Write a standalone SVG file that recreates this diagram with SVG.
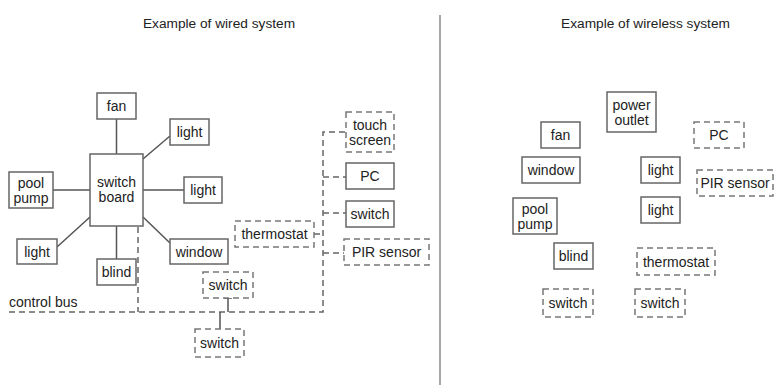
<svg xmlns="http://www.w3.org/2000/svg" width="774" height="385" viewBox="0 0 774 385">
<style>
text{font-family:"Liberation Sans",Arial,sans-serif;fill:#222;font-size:14px;text-anchor:middle}
.t{font-size:13.7px}
.b{fill:#fff;stroke:#666;stroke-width:1.5}
.d{fill:#fff;stroke:#777;stroke-width:1.5;stroke-dasharray:6,4}
.w{stroke:#555;stroke-width:1.5;fill:none}
.dw{stroke:#666;stroke-width:1.5;fill:none;stroke-dasharray:6,4}
</style>
<rect width="774" height="385" fill="#fff"/>
<text class="t" x="219" y="28">Example of wired system</text>
<text class="t" x="645.5" y="28">Example of wireless system</text>
<line x1="440" y1="15" x2="440" y2="385" stroke="#888" stroke-width="1.5"/>
<g id="connectors">
<line class="w" x1="116.5" y1="119" x2="116.5" y2="154"/>
<line class="w" x1="170" y1="136" x2="143" y2="159"/>
<line class="w" x1="53" y1="190" x2="90" y2="190"/>
<line class="w" x1="143" y1="190" x2="184" y2="190"/>
<line class="w" x1="57" y1="247" x2="90" y2="217"/>
<line class="w" x1="143" y1="217" x2="170" y2="243"/>
<line class="w" x1="116.5" y1="226" x2="116.5" y2="259"/>
<path class="dw" d="M138 227V312"/>
<path class="dw" d="M9 312H323V132H346"/>
<path class="dw" d="M323 177H346M323 213H346M323 253H344M314 234H323"/>
<path class="w" d="M228 298V312M224 298H232"/>
<line class="w" x1="220" y1="312" x2="220" y2="329"/>
<text x="9" y="307" style="text-anchor:start">control bus</text>
</g>
<g id="fan-w"><rect class="b" x="97" y="93" width="39" height="26"/><text x="116.5" y="111">fan</text></g>
<g id="light-w1"><rect class="b" x="170" y="119" width="39" height="26"/><text x="189.5" y="137">light</text></g>
<g id="switchboard"><rect class="b" x="90" y="154" width="53" height="72"/><text x="116.5" y="187">switch</text><text x="116.5" y="202">board</text></g>
<g id="poolpump-w"><rect class="b" x="9" y="172" width="44" height="36"/><text x="31" y="188">pool</text><text x="31" y="203">pump</text></g>
<g id="light-w2"><rect class="b" x="184" y="177" width="38" height="26"/><text x="203" y="195">light</text></g>
<g id="light-w3"><rect class="b" x="17" y="239" width="40" height="25"/><text x="37" y="256.5">light</text></g>
<g id="blind-w"><rect class="b" x="97" y="259" width="39" height="26"/><text x="116.5" y="277">blind</text></g>
<g id="window-w"><rect class="b" x="170" y="239" width="58" height="25"/><text x="199" y="256.5">window</text></g>
<g id="thermostat-w"><rect class="d" x="235" y="221" width="79" height="26"/><text x="274.5" y="239">thermostat</text></g>
<g id="touchscreen-w"><rect class="d" x="346" y="112" width="48" height="40"/><text x="370" y="130">touch</text><text x="370" y="145">screen</text></g>
<g id="pc-w"><rect class="b" x="346" y="163" width="48" height="26"/><text x="370" y="181">PC</text></g>
<g id="switch-w1"><rect class="b" x="346" y="201" width="48" height="26"/><text x="370" y="219">switch</text></g>
<g id="pir-w"><rect class="d" x="344" y="239" width="85" height="26"/><text x="386.5" y="257">PIR sensor</text></g>
<g id="switch-w2"><rect class="d" x="203" y="272" width="50" height="26"/><text x="228" y="290">switch</text></g>
<g id="switch-w3"><rect class="d" x="195" y="329" width="49" height="28"/><text x="219.5" y="348">switch</text></g>
<g id="poweroutlet"><rect class="b" x="607" y="92" width="49" height="40"/><text x="631.5" y="110">power</text><text x="631.5" y="125">outlet</text></g>
<g id="fan-r"><rect class="b" x="541" y="122" width="39" height="26"/><text x="560.5" y="140">fan</text></g>
<g id="pc-r"><rect class="d" x="694" y="122" width="50" height="26"/><text x="719" y="140">PC</text></g>
<g id="window-r"><rect class="b" x="522" y="157" width="58" height="26"/><text x="551" y="175">window</text></g>
<g id="light-r1"><rect class="b" x="641" y="157" width="39" height="26"/><text x="660.5" y="175">light</text></g>
<g id="pir-r"><rect class="d" x="697" y="170" width="76" height="26"/><text x="735" y="188">PIR sensor</text></g>
<g id="poolpump-r"><rect class="b" x="513" y="198" width="44" height="36"/><text x="535" y="214">pool</text><text x="535" y="229">pump</text></g>
<g id="light-r2"><rect class="b" x="641" y="197" width="39" height="26"/><text x="660.5" y="215">light</text></g>
<g id="blind-r"><rect class="b" x="554" y="243" width="39" height="26"/><text x="573.5" y="261">blind</text></g>
<g id="thermostat-r"><rect class="d" x="637" y="248" width="78" height="27"/><text x="676" y="266.5">thermostat</text></g>
<g id="switch-r1"><rect class="d" x="543" y="289" width="50" height="28"/><text x="568" y="308">switch</text></g>
<g id="switch-r2"><rect class="d" x="635" y="289" width="50" height="28"/><text x="660" y="308">switch</text></g>
</svg>
